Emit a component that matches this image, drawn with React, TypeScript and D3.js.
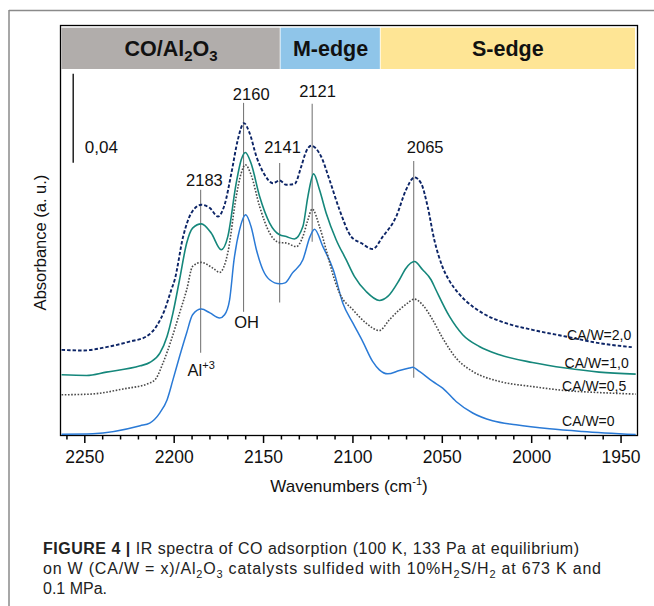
import React from 'react';
import * as d3 from 'd3';

// ---- Data (wavenumber cm-1, absorbance a.u. incl. stacking offset) ----
const cw0: [number, number][] = [
  [2263, 0.0006], [2245.5, 0.0008], [2219, 0.0044], [2213.7, 0.0056], [2208, 0.0102], [2204, 0.016],
  [2200.7, 0.025], [2197, 0.0355], [2193, 0.0462], [2189.7, 0.0543], [2184.8, 0.0568], [2180, 0.0551],
  [2174.6, 0.0528], [2171.8, 0.0543], [2169, 0.061], [2166.5, 0.079], [2163.4, 0.0925], [2160, 0.0992],
  [2157, 0.0939], [2154, 0.0835], [2150.4, 0.0745], [2146.6, 0.07], [2141, 0.0682], [2138, 0.0686],
  [2133.8, 0.0731], [2128, 0.079], [2124, 0.0894], [2121.5, 0.0927], [2116.8, 0.0849], [2111, 0.0745],
  [2105.7, 0.0596], [2100, 0.0505], [2094.5, 0.0422], [2089, 0.0333], [2085.2, 0.0295], [2080.5, 0.0277],
  [2074, 0.0292], [2068.4, 0.0303], [2066.6, 0.0307], [2062.8, 0.0288], [2055.4, 0.0243], [2049.8, 0.0213],
  [2042.3, 0.0153], [2033, 0.0101], [2021.9, 0.0066], [2008.8, 0.0048], [1990, 0.003], [1971.7, 0.0018],
  [1941.8, 0.0004],
];
const cw05: [number, number][] = [
  [2263, 0.0183], [2247, 0.0186], [2228.6, 0.0209], [2213.7, 0.0236], [2210, 0.0258], [2206.3, 0.0325],
  [2201.6, 0.043], [2197, 0.055], [2193, 0.0655], [2189.7, 0.076], [2184.8, 0.0778], [2178.3, 0.0752],
  [2174.6, 0.0733], [2170, 0.0821], [2165.3, 0.1074], [2162.5, 0.1179], [2160.2, 0.1217], [2157, 0.1172],
  [2152.2, 0.1029], [2146.6, 0.091], [2141, 0.0867], [2137.3, 0.0865], [2131.7, 0.0849], [2128, 0.0894],
  [2125.2, 0.0969], [2122.8, 0.1018], [2118.7, 0.0939], [2115, 0.0835], [2110.3, 0.07], [2107.5, 0.064],
  [2100, 0.0565], [2092.6, 0.0505], [2085.2, 0.0472], [2079.6, 0.052], [2074, 0.0565], [2069.4, 0.0595],
  [2065.6, 0.0613], [2061, 0.0587], [2055.4, 0.052], [2049.8, 0.0438], [2042.3, 0.0348], [2033, 0.0288],
  [2018, 0.0243], [1999.6, 0.022], [1981, 0.0202], [1962.3, 0.0193], [1941.8, 0.0186],
];
const cw10: [number, number][] = [
  [2263, 0.0273], [2249, 0.027], [2238, 0.0285], [2219, 0.0313], [2213.7, 0.0328], [2208, 0.037],
  [2204, 0.0445], [2200.7, 0.055], [2197, 0.07], [2193, 0.0865], [2189.7, 0.0932], [2184.8, 0.0951],
  [2179.3, 0.091], [2173.7, 0.0835], [2170, 0.0894], [2165.3, 0.1134], [2162.5, 0.1239], [2160.2, 0.1272],
  [2157, 0.1224], [2152.2, 0.1074], [2146.6, 0.0955], [2141, 0.0902], [2137.3, 0.0894], [2132.8, 0.0883],
  [2128, 0.0939], [2125.2, 0.1074], [2122, 0.1176], [2118.7, 0.1104], [2115, 0.1], [2109.4, 0.088],
  [2103.8, 0.079], [2099.2, 0.0715], [2092.6, 0.0647], [2085.2, 0.0607], [2080.5, 0.0625], [2074, 0.07],
  [2070.3, 0.0752], [2065.6, 0.0782], [2061, 0.0745], [2056.3, 0.07], [2053.6, 0.0655], [2046, 0.0535],
  [2038.6, 0.0453], [2029.3, 0.04], [2018, 0.0363], [1999.6, 0.0328], [1981, 0.0303], [1962.3, 0.0285],
  [1941.8, 0.0276],
];
const cw20: [number, number][] = [
  [2263, 0.0385], [2251, 0.0382], [2238, 0.0397], [2225, 0.0422], [2215.6, 0.0445], [2210, 0.049],
  [2205.3, 0.0565], [2201.6, 0.0655], [2199.7, 0.07], [2195, 0.0894], [2190.4, 0.1], [2184.8, 0.1037],
  [2180, 0.1022], [2175.5, 0.0984], [2171.8, 0.1037], [2168, 0.1179], [2164.4, 0.1329], [2161, 0.1404],
  [2157.8, 0.1359], [2154, 0.1254], [2149.4, 0.1172], [2144.8, 0.1134], [2141, 0.1146], [2137.3, 0.1127],
  [2132.7, 0.113], [2128.9, 0.1209], [2126.2, 0.1276], [2123.4, 0.1302], [2117.8, 0.1254], [2113.1, 0.1149],
  [2107.5, 0.1014], [2101, 0.0894], [2095.4, 0.0865], [2089, 0.0838], [2083.3, 0.0894], [2075.8, 0.0984],
  [2070.3, 0.1104], [2065.6, 0.116], [2061.9, 0.1134], [2058.2, 0.1029], [2054.5, 0.088], [2050, 0.076],
  [2046, 0.0695], [2041, 0.064], [2036.8, 0.0605], [2027.5, 0.055], [2014.5, 0.0505], [1999.6, 0.0475],
  [1981, 0.0445], [1962.3, 0.0415], [1944, 0.0397],
];

const seriesNames = ['CA/W=0', 'CA/W=0,5', 'CA/W=1,0', 'CA/W=2,0'];
const seriesData = [cw0, cw05, cw10, cw20];
// label anchor: [wavenumber of label start, absorbance at baseline]
const seriesLabelPos: [number, number][] = [[1983.0, 0.0042], [1983.0, 0.0200], [1981.6, 0.0305], [1980.2, 0.0430]];

// peak annotation lines: drawn position, top & bottom absorbance
const peakLabels = ['2183', '2160', '2141', '2121', '2065'];
const peakWn = [2185.2, 2161.2, 2141, 2122.8, 2066];
const peakTop = [0.1104, 0.1495, 0.1225, 0.1491, 0.1234];
const peakBottom = [0.0372, 0.0556, 0.0598, 0.0871, 0.0259];
const peakLabelWn = [2183.1, 2156.9, 2139.4, 2119.8, 2059.6];
const peakLabelAbs = [0.1122, 0.1508, 0.1270, 0.1522, 0.1270];

const regionNames = ['CO/Al2O3', 'M-edge', 'S-edge'];
const regionEdges = [2263, 2140.5, 2084.5, 1942.2];

const xDomain: [number, number] = [2263.6, 1940.8];
const yDomain: [number, number] = [0, 0.18427];
const majorTicks = [2250, 2200, 2150, 2100, 2050, 2000, 1950];
const scaleBarValue = 0.04;

export default function App() {
  const W = 654, H = 606;
  const L = 60.5, R = 637.5, T = 25.5, B = 435.5;
  const x = d3.scaleLinear().domain(xDomain).range([L, R]);
  const y = d3.scaleLinear().domain(yDomain).range([B, T]);
  const line = d3.line<[number, number]>()
    .x(d => x(d[0])).y(d => y(d[1]))
    .curve(d3.curveMonotoneX);

  const font = 'Liberation Sans, Arial, Helvetica, sans-serif';
  const colors = ['#2a7ad6', '#4a4a4a', '#15877b', '#0c2466'];
  const widths = [1.5, 1.6, 1.6, 1.9];
  const dashes = [undefined, '1.6,1.6', undefined, '3.5,2'];
  const bandColors = ['#b1adab', '#8fc5e9', '#fee595'];

  const minorTicks = d3.range(1950, 2261, 10);

  const sb0 = 0.1626;

  return (
    <svg width={W} height={H} style={{ position: 'absolute', left: 0, top: 0, background: '#fff' }}
      fontFamily={font}>
      <defs>
        <clipPath id="plotclip"><rect x={L} y={T} width={R - L} height={B - T} /></clipPath>
      </defs>
      {/* outer page frame */}
      <line x1={9} y1={10.5} x2={W} y2={10.5} stroke="#8a8a8a" strokeWidth={1.5} />
      <line x1={9} y1={10} x2={9} y2={H} stroke="#8a8a8a" strokeWidth={1.5} />

      {/* header bands */}
      {regionNames.map((n, i) => {
        const x0 = x(regionEdges[i]), x1 = x(regionEdges[i + 1]);
        return <rect key={n} x={x0} y={27.7} width={x1 - x0 - (i < 2 ? 0.8 : 0)} height={41.3} fill={bandColors[i]} />;
      })}
      <text x={(x(regionEdges[0]) + x(regionEdges[1])) / 2} y={56} textAnchor="middle" fontWeight="bold" fontSize={21.5} fill="#111">
        CO/Al<tspan fontSize={15} dy={5}>2</tspan><tspan dy={-5}>O</tspan><tspan fontSize={15} dy={5}>3</tspan>
      </text>
      <text x={(x(regionEdges[1]) + x(regionEdges[2])) / 2} y={56} textAnchor="middle" fontWeight="bold" fontSize={21.5} fill="#111">{regionNames[1]}</text>
      <text x={(x(regionEdges[2]) + x(regionEdges[3])) / 2} y={56} textAnchor="middle" fontWeight="bold" fontSize={21.5} fill="#111">{regionNames[2]}</text>

      {/* plot frame */}
      <rect x={L} y={T} width={R - L} height={B - T} fill="none" stroke="#000" strokeWidth={1.3} />

      {/* scale bar */}
      <line x1={x(2256.5)} x2={x(2256.5)} y1={y(sb0)} y2={y(sb0 - scaleBarValue)} stroke="#000" strokeWidth={1.3} />
      <text x={x(2250)} y={y(sb0 - scaleBarValue) - 9.5} fontSize={17} fill="#111">0,04</text>

      {/* peak lines */}
      {peakWn.map((w, i) => (
        <line key={'p' + i} x1={x(w)} x2={x(w)} y1={y(peakTop[i])} y2={y(peakBottom[i])} stroke="#7a7a7a" strokeWidth={1.1} />
      ))}
      {peakLabels.map((t, i) => (
        <text key={'pl' + i} x={x(peakLabelWn[i])} y={y(peakLabelAbs[i])} textAnchor="middle" fontSize={16.5} fill="#111">{t}</text>
      ))}
      <text x={x(2159.5)} y={y(0.0485)} textAnchor="middle" fontSize={16.5} fill="#111">OH</text>
      <text x={x(2192.5)} y={y(0.0268)} fontSize={16.5} fill="#111">Al<tspan fontSize={11} dy={-7}>+3</tspan></text>

      {/* curves */}
      <g clipPath="url(#plotclip)">
        {seriesData.map((d, i) => (
          <path key={seriesNames[i]} d={line(d) || ''} fill="none" stroke={colors[i]} strokeWidth={widths[i]}
            strokeDasharray={dashes[i]} strokeLinejoin="round" />
        ))}
      </g>
      {seriesNames.map((n, i) => (
        <text key={'sl' + i} x={x(seriesLabelPos[i][0])} y={y(seriesLabelPos[i][1])} fontSize={14} fill="#111">{n}</text>
      ))}

      {/* x axis ticks */}
      {minorTicks.map(t => {
        const major = majorTicks.includes(t);
        return <line key={'t' + t} x1={x(t)} x2={x(t)} y1={B} y2={B + (major ? 7.5 : 4)} stroke="#000" strokeWidth={1.5} />;
      })}
      {majorTicks.map(t => (
        <text key={'tl' + t} x={x(t)} y={462.5} textAnchor="middle" fontSize={17.5} fill="#111">{t}</text>
      ))}
      <text x={(L + R) / 2} y={492} textAnchor="middle" fontSize={17} fill="#111">
        Wavenumbers (cm<tspan fontSize={11} dy={-7}>-1</tspan><tspan dy={7}>)</tspan>
      </text>
      <text transform={`translate(46,${(T + B) / 2 + 12}) rotate(-90)`} textAnchor="middle" fontSize={16.5} fill="#111">Absorbance (a. u.)</text>

      {/* caption */}
      <text x={43} y={554} fontSize={16} fill="#222" textLength={536} lengthAdjust="spacing">
        <tspan fontWeight="bold">FIGURE 4</tspan><tspan fontWeight="bold"> | </tspan>IR spectra of CO adsorption (100 K, 133 Pa at equilibrium)
      </text>
      <text x={43} y={574} fontSize={16} fill="#222" textLength={558} lengthAdjust="spacing">
        on W (CA/W = x)/Al<tspan fontSize={11} dy={4}>2</tspan><tspan dy={-4}>O</tspan><tspan fontSize={11} dy={4}>3</tspan><tspan dy={-4}> catalysts sulfided with 10%H</tspan><tspan fontSize={11} dy={4}>2</tspan><tspan dy={-4}>S/H</tspan><tspan fontSize={11} dy={4}>2</tspan><tspan dy={-4}> at 673 K and</tspan>
      </text>
      <text x={43} y={594} fontSize={16} fill="#222">0.1 MPa.</text>
    </svg>
  );
}
